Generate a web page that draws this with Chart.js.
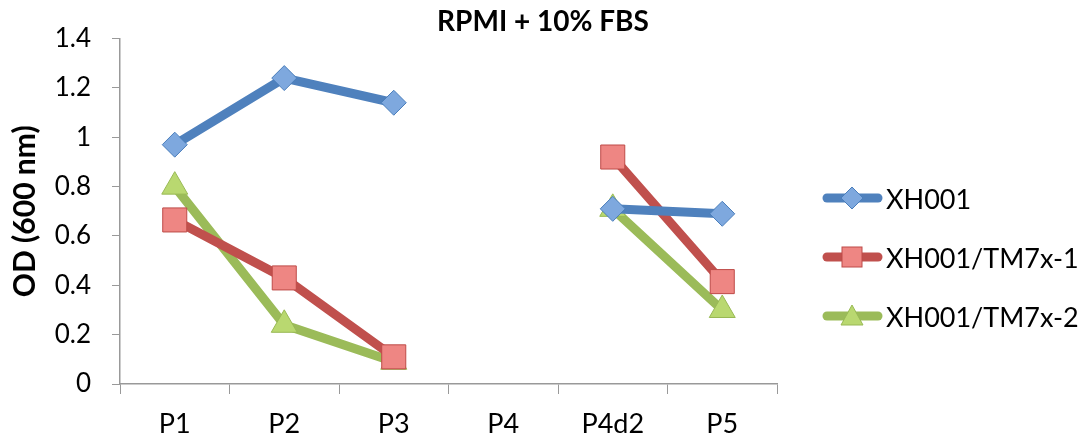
<!DOCTYPE html>
<html>
<head>
<meta charset="utf-8">
<script src="https://cdn.jsdelivr.net/npm/chart.js@4/dist/chart.umd.min.js"></script>
<style>
  html, body { margin: 0; padding: 0; background: #fff; }
  #wrap { position: relative; width: 1086px; height: 446px; }
  #legend { position: absolute; left: 822px; top: 0; font-family: Lato, 'Open Sans', sans-serif; font-size: 27px; color: #000; }
  .row { position: absolute; left: 0; height: 34px; display: flex; align-items: center; white-space: nowrap; }
  .row svg { display: block; margin-right: 2px; }
</style>
</head>
<body>
<div id="wrap">
  <canvas id="chart" width="1086" height="446"></canvas>
  <div id="legend"></div>
</div>
<script>
const categories = ["P1", "P2", "P3", "P4", "P4d2", "P5"];
const seriesNames = ["XH001", "XH001/TM7x-1", "XH001/TM7x-2"];
const xh001 = [0.97, 1.24, 1.14, null, 0.71, 0.69];
const tm7x1 = [0.665, 0.43, 0.11, null, 0.92, 0.415];
const tm7x2 = [0.80, 0.24, 0.09, null, 0.71, 0.30];
const yTicks = [0, 0.2, 0.4, 0.6, 0.8, 1, 1.2, 1.4];

const FONT = "Lato, 'Open Sans', sans-serif";
const styles = [
  { line: "#4F81BD", fill: "#7EA8DE", edge: "#4A7EBB", shape: "rectRot", r: 12.5 },
  { line: "#C0504D", fill: "#EE8683", edge: "#BE4B48", shape: "rect", r: 17 },
  { line: "#9BBB59", fill: "#B9D870", edge: "#98B954", shape: "triangle", r: 15 }
];

// html legend: line + marker, then the name
function iconSvg(st) {
  let m;
  if (st.shape === "rectRot") m = `<polygon points="30,4 41,15 30,26 19,15" />`;
  else if (st.shape === "rect") m = `<rect x="20" y="5" width="20" height="20" />`;
  else m = `<polygon points="30,4 41,24 19,24" />`;
  return `<svg width="62" height="30" viewBox="0 0 62 30">
    <line x1="5" y1="15" x2="56" y2="15" stroke="${st.line}" stroke-width="9" stroke-linecap="round"/>
    <g fill="${st.fill}" stroke="${st.edge}" stroke-width="1">${m}</g></svg>`;
}
const rowCenters = [198, 257, 316];
document.getElementById("legend").innerHTML = seriesNames.map((n, i) =>
  `<div class="row" style="top:${rowCenters[i] - 17}px">${iconSvg(styles[i])}<span>${n}</span></div>`
).join("");

const seriesData = [xh001, tm7x1, tm7x2];
const datasets = seriesNames.map((name, i) => ({
  label: name,
  data: seriesData[i],
  borderColor: styles[i].line,
  borderWidth: 9,
  pointStyle: styles[i].shape,
  pointRadius: styles[i].r,
  pointBackgroundColor: styles[i].fill,
  pointBorderColor: styles[i].edge,
  pointBorderWidth: 1,
  spanGaps: false,
  tension: 0
}));

new Chart(document.getElementById("chart"), {
  type: "line",
  data: { labels: categories, datasets: datasets },
  options: {
    responsive: false,
    animation: false,
    layout: { padding: 0 },
    plugins: {
      title: {
        display: true,
        text: "RPMI + 10% FBS",
        color: "#000",
        font: { family: FONT, size: 28, weight: "bold" },
        padding: { top: 5, bottom: 0 }
      },
      legend: { display: false },
      tooltip: { enabled: false }
    },
    scales: {
      x: {
        offset: true,
        grid: { drawOnChartArea: false, offset: true, color: "#999", tickLength: 10, tickColor: "#999" },
        border: { color: "#999", width: 1.5 },
        ticks: { color: "#000", font: { family: FONT, size: 27 }, padding: 14 },
        afterFit: (s) => { s.height = 62; }
      },
      y: {
        min: 0,
        max: 1.4,
        afterBuildTicks: (s) => { s.ticks = yTicks.map(v => ({ value: v })); },
        grid: { drawOnChartArea: false, color: "#999", tickLength: 8, tickColor: "#999" },
        border: { color: "#999", width: 1.5 },
        ticks: {
          color: "#000",
          font: { family: FONT, size: 26 },
          padding: 21,
          callback: (v) => String(+v.toFixed(1))
        },
        title: {
          display: true,
          text: "OD (600 nm)",
          color: "#000",
          font: { family: FONT, size: 30, weight: "bold" },
          padding: { top: 7, bottom: 0 }
        },
        afterFit: (s) => { s.width = 120; }
      },
      // empty right-hand scale that only reserves the room the legend sits in
      side: {
        position: "right",
        grid: { display: false },
        border: { display: false },
        ticks: { display: false },
        afterFit: (s) => { s.width = 309; }
      }
    }
  }
});
</script>
</body>
</html>
